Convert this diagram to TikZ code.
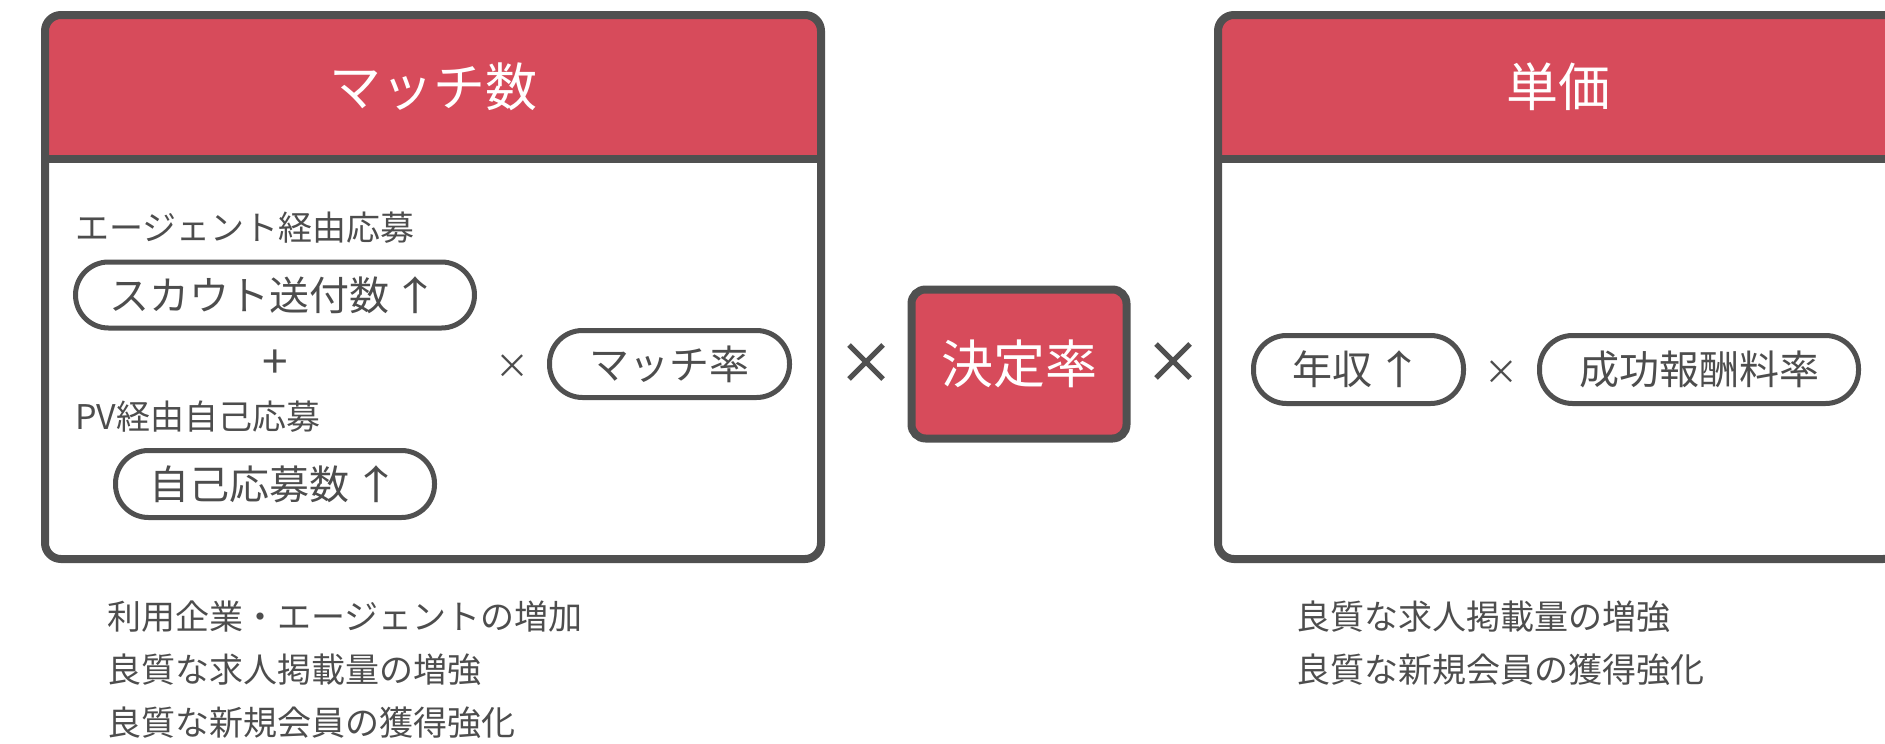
\documentclass[tikz,border=0pt]{standalone}
\usepackage{fontspec}
\setmainfont{Noto Sans CJK JP}
\definecolor{matchred}{HTML}{D74B5B}
\definecolor{framegray}{HTML}{505050}
\definecolor{textgray}{HTML}{4D4D4D}
\tikzset{
	frame/.style={draw=framegray, line width=8pt},
	pill/.style={draw=framegray, line width=5pt, fill=white, rounded corners=33pt, inner sep=0pt, minimum height=66pt, text=textgray, font=\fontsize{40}{48}\selectfont},
	headtext/.style={text=white, inner sep=0pt, font=\fontsize{52}{60}\selectfont},
	smalltext/.style={text=textgray, inner sep=0pt, font=\fontsize{34}{53}\selectfont},
	crossline/.style={draw=framegray, line width=5pt}
}
% panel with a red header: (left:right){node name}{title}
\def\panel(#1:#2)#3#4{
	\begin{scope}
		\clip[rounded corners=16pt] (#1,15) rectangle (#2,559);
		\fill[matchred] (#1,15) rectangle (#2,159);
	\end{scope}
	\draw[frame, rounded corners=16pt] (#1,15) rectangle (#2,559);
	\draw[frame] (#1,159) -- (#2,159);
	\node[headtext] (#3) at ({(#1+#2)/2}, 87) {#4};
}
% up arrow after a pill text
\def\up{\hspace{2pt}\scalebox{1.25}[1]{↑}}
\begin{document}
\begin{tikzpicture}[x=1pt, y=-1pt]
			%%%%% START %%%%%
			\useasboundingbox (0, 0) rectangle (1885, 744);
			
			\panel(45:821){matchTitle}{マッチ数}
			\panel(1218:1899){priceTitle}{単価}
			
			\node[smalltext, anchor=west] (agentLbl) at (75, 228) {エージェント経由応募};
			\node[pill, minimum width=399pt] (scout) at (275, 295) {スカウト送付数\up};
			\node[smalltext, font=\fontsize{46}{53}\selectfont] (plus) at (275, 364) {+};
			\node[smalltext, anchor=west] (pvLbl) at (75, 417) {PV経由自己応募};
			\node[pill, minimum width=319pt, minimum height=67pt] (selfApply) at (275, 484) {自己応募数\up};
			\node[smalltext] (timesA) at (512, 367) {×};
			\node[pill, minimum width=240pt, minimum height=67pt] (matchRate) at (669.5, 364) {マッチ率};
			
			\coordinate (crossA) at (866, 362);
			\draw[crossline] (crossA) ++(-17, -17) -- ++(34, 34) (crossA) ++(-17, 17) -- ++(34, -34);
			
			\node[frame, fill=matchred, rounded corners=14pt, minimum width=215pt, minimum height=149pt, headtext] (decision) at (1019, 364) {決定率};
			
			\coordinate (crossB) at (1173, 361);
			\draw[crossline] (crossB) ++(-17, -17) -- ++(34, 34) (crossB) ++(-17, 17) -- ++(34, -34);
			
			\node[pill, minimum width=210pt, minimum height=68pt] (salary) at (1358.5, 369.5) {年収\up};
			\node[smalltext] (timesB) at (1501, 373) {×};
			\node[pill, minimum width=319pt, minimum height=68pt] (feeRate) at (1699, 369.5) {成功報酬料率};
			
			\node[smalltext, anchor=west, align=left] (leftNotes) at (107, 670) {利用企業・エージェントの増加\\良質な求人掲載量の増強\\良質な新規会員の獲得強化};
			\node[smalltext, anchor=west, align=left] (rightNotes) at (1296, 643.5) {良質な求人掲載量の増強\\良質な新規会員の獲得強化};
			%%%%% END %%%%%
\end{tikzpicture}
\end{document}
